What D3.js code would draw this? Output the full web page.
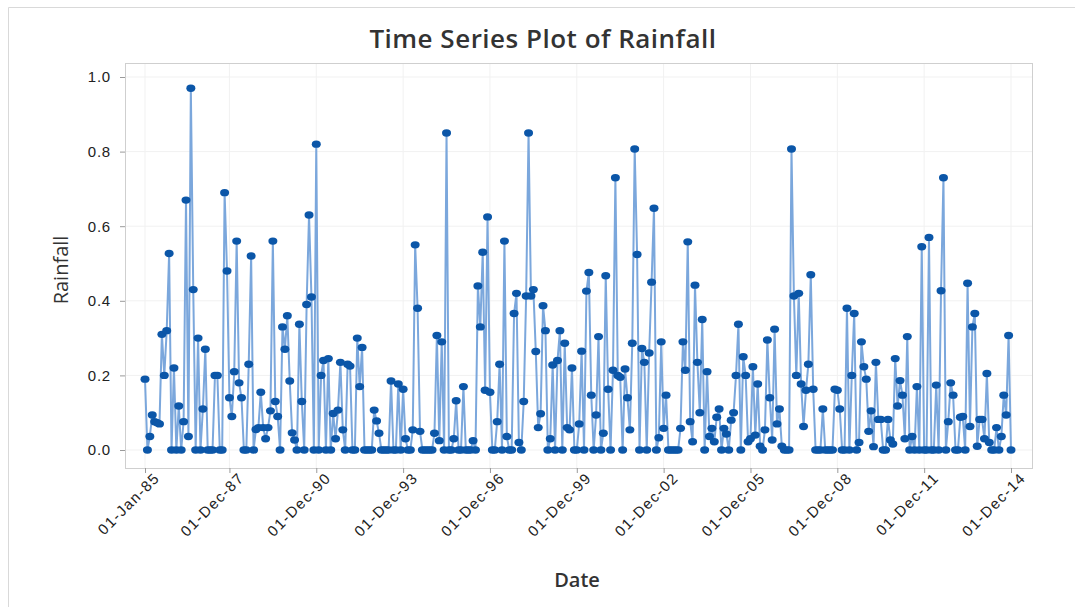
<!DOCTYPE html>
<html>
<head>
<meta charset="utf-8">
<script src="https://cdn.jsdelivr.net/npm/d3@7"></script>
<style>
  body { margin: 0; background: #fff; }
  svg { display: block; font-family: "Open Sans", "Noto Sans", sans-serif; }
</style>
</head>
<body>
<svg id="chart"></svg>
<script>
// Monthly rainfall, Jan 1985 .. Dec 2014 (360 months)
const rain85to90 = [0.19, 0.0, 0.036, 0.094, 0.076, 0.073, 0.07, 0.31, 0.2, 0.32, 0.527, 0.0,
  0.22, 0.0, 0.118, 0.0, 0.076, 0.67, 0.036, 0.97, 0.43, 0.0, 0.30, 0.0,
  0.11, 0.27, 0.0, 0.0, 0.0, 0.2, 0.2, 0.0, 0.0, 0.69, 0.48, 0.14,
  0.09, 0.21, 0.56, 0.18, 0.14, 0.0, 0.0, 0.23, 0.52, 0.0, 0.055, 0.06,
  0.155, 0.06, 0.03, 0.06, 0.105, 0.56, 0.13, 0.09, 0.0, 0.33, 0.27, 0.36,
  0.185, 0.046, 0.027, 0.0, 0.337, 0.13, 0.0, 0.39, 0.63, 0.41, 0.0, 0.82];
const rain91to96 = [0.0, 0.2, 0.24, 0.0, 0.245, 0.0, 0.098, 0.03, 0.107, 0.235, 0.054, 0.0,
  0.23, 0.225, 0.0, 0.0, 0.30, 0.17, 0.275, 0.0, 0.0, 0.0, 0.0, 0.107,
  0.078, 0.045, 0.0, 0.0, 0.0, 0.0, 0.185, 0.0, 0.0, 0.177, 0.0, 0.163,
  0.03, 0.0, 0.0, 0.054, 0.55, 0.38, 0.05, 0.0, 0.0, 0.0, 0.0, 0.0,
  0.045, 0.307, 0.025, 0.29, 0.0, 0.85, 0.0, 0.0, 0.03, 0.132, 0.0, 0.0,
  0.17, 0.0, 0.0, 0.0, 0.025, 0.0, 0.44, 0.33, 0.53, 0.16, 0.625, 0.155];
const rain97to02 = [0.0, 0.0, 0.076, 0.23, 0.0, 0.56, 0.036, 0.0, 0.0, 0.366, 0.42, 0.02,
  0.0, 0.13, 0.413, 0.85, 0.413, 0.43, 0.264, 0.06, 0.097, 0.387, 0.32, 0.0,
  0.03, 0.228, 0.0, 0.24, 0.32, 0.0, 0.286, 0.06, 0.054, 0.22, 0.0, 0.0,
  0.07, 0.265, 0.0, 0.426, 0.476, 0.147, 0.0, 0.094, 0.304, 0.0, 0.045, 0.467,
  0.163, 0.0, 0.214, 0.73, 0.2, 0.195, 0.0, 0.217, 0.14, 0.054, 0.286, 0.807,
  0.524, 0.0, 0.272, 0.235, 0.0, 0.26, 0.45, 0.648, 0.0, 0.033, 0.29, 0.058];
const rain03to08 = [0.147, 0.0, 0.0, 0.0, 0.0, 0.0, 0.058, 0.29, 0.214, 0.558, 0.076, 0.022,
  0.442, 0.235, 0.1, 0.35, 0.0, 0.21, 0.036, 0.058, 0.022, 0.088, 0.11, 0.0,
  0.058, 0.043, 0.0, 0.08, 0.1, 0.2, 0.337, 0.0, 0.25, 0.2, 0.022, 0.03,
  0.223, 0.04, 0.177, 0.01, 0.0, 0.054, 0.295, 0.14, 0.027, 0.324, 0.07, 0.11,
  0.01, 0.0, 0.0, 0.0, 0.807, 0.413, 0.2, 0.42, 0.177, 0.063, 0.16, 0.23,
  0.47, 0.163, 0.0, 0.0, 0.0, 0.11, 0.0, 0.0, 0.0, 0.0, 0.163, 0.16];
const rain09to14 = [0.11, 0.0, 0.0, 0.38, 0.0, 0.2, 0.366, 0.0, 0.02, 0.29, 0.223, 0.19,
  0.05, 0.105, 0.009, 0.235, 0.082, 0.082, 0.0, 0.0, 0.082, 0.027, 0.016, 0.245,
  0.118, 0.186, 0.147, 0.03, 0.304, 0.0, 0.036, 0.0, 0.17, 0.0, 0.545, 0.0,
  0.0, 0.57, 0.0, 0.0, 0.174, 0.0, 0.427, 0.73, 0.0, 0.076, 0.18, 0.147,
  0.0, 0.0, 0.088, 0.09, 0.0, 0.447, 0.063, 0.33, 0.366, 0.01, 0.082, 0.082,
  0.03, 0.205, 0.02, 0.0, 0.0, 0.06, 0.0, 0.036, 0.147, 0.094, 0.307, 0.0];

const rainfall = [].concat(rain85to90, rain91to96, rain97to02, rain03to08, rain09to14);

// x tick positions (month index) and their labels
const dateTickIndex = [0, 35, 71, 107, 143, 179, 215, 251, 287, 323, 359];
const dateTickLabels = ["01-Jan-85", "01-Dec-87", "01-Dec-90", "01-Dec-93", "01-Dec-96",
  "01-Dec-99", "01-Dec-02", "01-Dec-05", "01-Dec-08", "01-Dec-11", "01-Dec-14"];
const rainTicks = [0.0, 0.2, 0.4, 0.6, 0.8, 1.0];

const W = 1075, H = 607;
const svg = d3.select("#chart").attr("width", W).attr("height", H);

// frame of the whole graph window
svg.append("path")
  .attr("d", `M8.5,${H} V7.5 H${W}`)
  .attr("fill", "none")
  .attr("stroke", "#d9d9d9");

// data region
const frame = { left: 125, right: 1032, top: 63, bottom: 468 };

// Scales
const x = d3.scaleLinear().domain([0, 359]).range([145, 1011]);
const y = d3.scaleLinear().domain([0, 1]).range([450, 77]);

// gridlines
svg.append("g").selectAll("line.vg")
  .data(dateTickIndex)
  .enter().append("line")
  .attr("x1", d => x(d)).attr("x2", d => x(d))
  .attr("y1", frame.top).attr("y2", frame.bottom)
  .attr("stroke", "#f1f1f1");

svg.append("g").selectAll("line.hg")
  .data(rainTicks)
  .enter().append("line")
  .attr("x1", frame.left).attr("x2", frame.right)
  .attr("y1", d => y(d)).attr("y2", d => y(d))
  .attr("stroke", "#f1f1f1");

svg.append("rect")
  .attr("x", frame.left + 0.5).attr("y", frame.top + 0.5)
  .attr("width", frame.right - frame.left).attr("height", frame.bottom - frame.top)
  .attr("fill", "none")
  .attr("stroke", "#cfcfcf");

// Y axis
const yAxisGroup = svg.append("g")
  .attr("transform", `translate(${frame.left},0)`)
  .call(d3.axisLeft(y).tickValues(rainTicks).tickFormat(d3.format(".1f")).tickSize(5).tickPadding(9));

// X axis
const xAxisGroup = svg.append("g")
  .attr("transform", `translate(0,${frame.bottom})`)
  .call(d3.axisBottom(x).tickValues(dateTickIndex).tickFormat((d, i) => dateTickLabels[i]).tickSize(5));

[yAxisGroup, xAxisGroup].forEach(g => {
  g.select(".domain").remove();
  g.selectAll("line").attr("stroke", "#9a9a9a");
  g.selectAll("text").attr("fill", "#222").style("font-size", "15px").style("font-weight", 500);
});

yAxisGroup.selectAll("text").style("letter-spacing", "0.8px");

xAxisGroup.selectAll("text")
  .attr("text-anchor", "end")
  .attr("dx", "0.2em")
  .attr("dy", "0.7em")
  .style("letter-spacing", "1.4px")
  .attr("transform", "rotate(-45)");

// connecting line
const line = d3.line()
  .x((d, i) => x(i))
  .y(d => y(d));

svg.append("path")
  .datum(rainfall)
  .attr("d", line)
  .attr("fill", "none")
  .attr("stroke", "#7ba7dc")
  .attr("stroke-width", 2);

// markers
svg.append("g").selectAll("ellipse")
  .data(rainfall)
  .enter().append("ellipse")
  .attr("cx", (d, i) => x(i))
  .attr("cy", d => y(d))
  .attr("rx", 4.5)
  .attr("ry", 3.7)
  .attr("fill", "#0b56a8");

// Titles
svg.append("text")
  .attr("x", 543).attr("y", 48)
  .attr("text-anchor", "middle")
  .attr("fill", "#333")
  .style("font-size", "26px")
  .style("font-weight", 600)
  .style("letter-spacing", "0.5px")
  .text("Time Series Plot of Rainfall");

svg.append("text")
  .attr("x", 577).attr("y", 587)
  .attr("text-anchor", "middle")
  .attr("fill", "#333")
  .style("font-size", "20px")
  .style("font-weight", 600)
  .text("Date");

svg.append("text")
  .attr("transform", "translate(68,270) rotate(-90)")
  .attr("text-anchor", "middle")
  .attr("fill", "#333")
  .style("font-size", "20px")
  .text("Rainfall");
</script>
</body>
</html>
